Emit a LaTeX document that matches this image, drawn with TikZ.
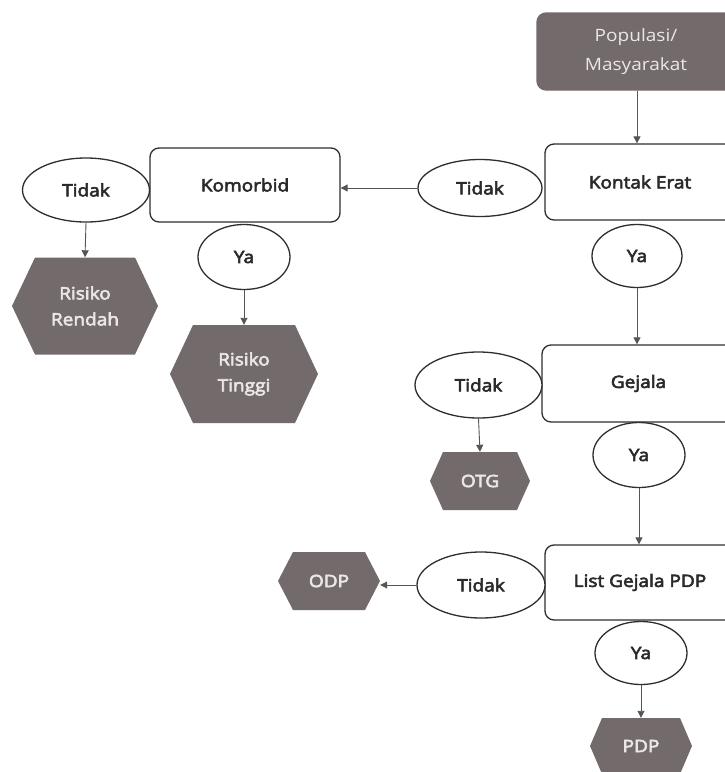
\documentclass[tikz,border=0pt]{standalone}
\usepackage{fontspec}
\setmainfont{Open Sans}[FakeStretch=1.12, BoldFont={Open Sans}, BoldFeatures={FakeBold=3.5}]
\usetikzlibrary{arrows.meta,shapes.geometric}
\definecolor{hexgray}{HTML}{736B6B}
\definecolor{hextext}{HTML}{ECE6E6}
\definecolor{linecol}{HTML}{2E2E2E}
\definecolor{arrcol}{HTML}{555555}
\definecolor{txtcol}{HTML}{2A2A2A}
\newcommand{\hexa}[7]{%
  \fill[hexgray] (#2-#4/2,#3) -- (#2-#4/2+#6,#3-#5/2) -- (#2+#4/2-#6,#3-#5/2) -- (#2+#4/2,#3)
     -- (#2+#4/2-#6,#3+#5/2) -- (#2-#4/2+#6,#3+#5/2) -- cycle;
  \node[hexlabel, minimum width=#4pt, minimum height=#5pt] (#1) at (#2,#3) {#7};}
\begin{document}
\begin{tikzpicture}[x=1pt,y=-1pt,
  box/.style={draw=linecol, line width=1.3pt, rounded corners=9pt, fill=white,
    inner sep=0pt, font=\bfseries\fontsize{17}{20}\selectfont, text=txtcol},
  oval/.style={ellipse, draw=linecol, line width=1.3pt, fill=white, inner sep=0pt,
    font=\bfseries\fontsize{17}{20}\selectfont, text=txtcol},
  hexlabel/.style={inner sep=0pt, align=center, text=hextext,
    font=\bfseries\fontsize{17}{26}\selectfont},
  arr/.style={-{Triangle[length=7pt,width=7pt]}, draw=arrcol, line width=0.9pt}
]
\useasboundingbox (0,0) rectangle (725,772);
% top box
\node[box, draw=hexgray, fill=hexgray, text=hextext, font=\fontsize{17}{29}\selectfont,
  align=center, minimum width=198pt, minimum height=77pt] (pop) at (636,51.5) {Populasi/\\Masyarakat};
% main column boxes
\node[box, minimum width=190pt, minimum height=76pt] (ke) at (640,182) {Kontak Erat};
\node[box, minimum width=190pt, minimum height=74pt] (kom) at (245,185) {Komorbid};
\node[box, minimum width=193pt, minimum height=77pt] (gej) at (638.5,383.5) {Gejala};
\node[box, minimum width=190pt, minimum height=75pt] (lg) at (640,582.5) {List Gejala PDP};
% ovals
\node[oval, minimum width=124pt, minimum height=57pt] (tke) at (480,188) {Tidak};
\node[oval, minimum width=127pt, minimum height=64pt] (tkom) at (86,190) {Tidak};
\node[oval, minimum width=92pt, minimum height=65pt] (ykom) at (244,257) {Ya};
\node[oval, minimum width=90pt, minimum height=63pt] (yke) at (637,256) {Ya};
\node[oval, minimum width=127pt, minimum height=66pt] (tgej) at (478.5,385) {Tidak};
\node[oval, minimum width=92pt, minimum height=65pt] (ygej) at (639,455) {Ya};
\node[oval, minimum width=128pt, minimum height=66pt] (tlg) at (481,585) {Tidak};
\node[oval, minimum width=92pt, minimum height=63pt] (ylg) at (641,653) {Ya};
% hexagons
\hexa{rr}{85}{306}{146}{97}{23}{Risiko\\Rendah}
\hexa{rt}{244}{374}{148}{98}{23}{Risiko\\Tinggi}
\hexa{otg}{480}{481}{100}{58}{13}{OTG}
\hexa{odp}{329}{581}{102}{58}{15}{ODP}
\hexa{pdp}{641}{746}{102}{56}{12}{PDP}
% connectors
\draw[arr] (pop.south -| yke) -- (ke.north -| yke);
\draw[arr] (tke.west) -- (kom.east |- tke.west);
\draw[arr] (tkom.south) -- (rr.north);
\draw[arr] (ykom.south) -- (rt.north);
\draw[arr] (yke.south) -- (gej.north -| yke);
\draw[arr] (tgej.south) -- (otg.north);
\draw[arr] (ygej.south) -- (lg.north -| ygej);
\draw[arr] (tlg.west) -- (odp.east |- tlg.west);
\draw[arr] (ylg.south) -- (pdp.north);
\end{tikzpicture}
\end{document}
